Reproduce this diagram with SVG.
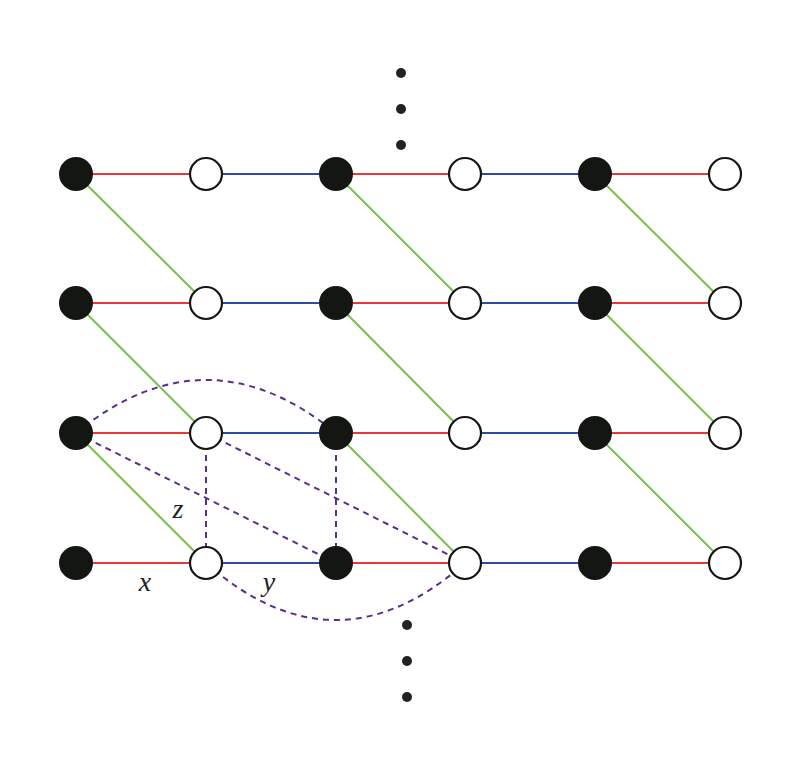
<svg xmlns="http://www.w3.org/2000/svg" width="788" height="762" viewBox="0 0 788 762">
<style>
.r{stroke:#e8383a;stroke-width:2}
.b{stroke:#2b4f9e;stroke-width:2}
.g{stroke:#77c04e;stroke-width:2}
.d{stroke:#5b2d8c;stroke-width:2;stroke-dasharray:6,5;fill:none}
.f{fill:#141614;stroke:#141614;stroke-width:2}
.o{fill:#fff;stroke:#141614;stroke-width:2.2}
.dot{fill:#222}
.t{font-family:"Liberation Serif",serif;font-style:italic;font-size:28px;fill:#222}
</style>
<rect width="788" height="762" fill="#fff"/>
<g id="connectors">
<g id="red">
<line class="r" x1="76" y1="174" x2="206" y2="174"/><line class="r" x1="336" y1="174" x2="465" y2="174"/><line class="r" x1="595" y1="174" x2="725" y2="174"/>
<line class="r" x1="76" y1="303" x2="206" y2="303"/><line class="r" x1="336" y1="303" x2="465" y2="303"/><line class="r" x1="595" y1="303" x2="725" y2="303"/>
<line class="r" x1="76" y1="433" x2="206" y2="433"/><line class="r" x1="336" y1="433" x2="465" y2="433"/><line class="r" x1="595" y1="433" x2="725" y2="433"/>
<line class="r" x1="76" y1="563" x2="206" y2="563"/><line class="r" x1="336" y1="563" x2="465" y2="563"/><line class="r" x1="595" y1="563" x2="725" y2="563"/>
</g>
<g id="blue">
<line class="b" x1="206" y1="174" x2="336" y2="174"/><line class="b" x1="465" y1="174" x2="595" y2="174"/>
<line class="b" x1="206" y1="303" x2="336" y2="303"/><line class="b" x1="465" y1="303" x2="595" y2="303"/>
<line class="b" x1="206" y1="433" x2="336" y2="433"/><line class="b" x1="465" y1="433" x2="595" y2="433"/>
<line class="b" x1="206" y1="563" x2="336" y2="563"/><line class="b" x1="465" y1="563" x2="595" y2="563"/>
</g>
<g id="green">
<line class="g" x1="76" y1="174" x2="206" y2="303"/><line class="g" x1="336" y1="174" x2="465" y2="303"/><line class="g" x1="595" y1="174" x2="725" y2="303"/>
<line class="g" x1="76" y1="303" x2="206" y2="433"/><line class="g" x1="336" y1="303" x2="465" y2="433"/><line class="g" x1="595" y1="303" x2="725" y2="433"/>
<line class="g" x1="76" y1="433" x2="206" y2="563"/><line class="g" x1="336" y1="433" x2="465" y2="563"/><line class="g" x1="595" y1="433" x2="725" y2="563"/>
</g>
<g id="dashed">
<path class="d" d="M76,433 Q206,327 336,433"/>
<path class="d" d="M206,563 Q336,677 465,563"/>
<line class="d" x1="76" y1="433" x2="336" y2="563"/>
<line class="d" x1="206" y1="433" x2="465" y2="563"/>
<line class="d" x1="206" y1="433" x2="206" y2="563"/>
<line class="d" x1="336" y1="433" x2="336" y2="563"/>
</g>
</g>
<g id="nodes">
<g id="r0"><circle class="f" cx="76" cy="174" r="16"/><circle class="o" cx="206" cy="174" r="16"/><circle class="f" cx="336" cy="174" r="16"/><circle class="o" cx="465" cy="174" r="16"/><circle class="f" cx="595" cy="174" r="16"/><circle class="o" cx="725" cy="174" r="16"/></g>
<g id="r1"><circle class="f" cx="76" cy="303" r="16"/><circle class="o" cx="206" cy="303" r="16"/><circle class="f" cx="336" cy="303" r="16"/><circle class="o" cx="465" cy="303" r="16"/><circle class="f" cx="595" cy="303" r="16"/><circle class="o" cx="725" cy="303" r="16"/></g>
<g id="r2"><circle class="f" cx="76" cy="433" r="16"/><circle class="o" cx="206" cy="433" r="16"/><circle class="f" cx="336" cy="433" r="16"/><circle class="o" cx="465" cy="433" r="16"/><circle class="f" cx="595" cy="433" r="16"/><circle class="o" cx="725" cy="433" r="16"/></g>
<g id="r3"><circle class="f" cx="76" cy="563" r="16"/><circle class="o" cx="206" cy="563" r="16"/><circle class="f" cx="336" cy="563" r="16"/><circle class="o" cx="465" cy="563" r="16"/><circle class="f" cx="595" cy="563" r="16"/><circle class="o" cx="725" cy="563" r="16"/></g>
</g>
<g id="ellipses">
<circle class="dot" cx="401" cy="73" r="5"/><circle class="dot" cx="401" cy="109" r="5"/><circle class="dot" cx="401" cy="145" r="5"/>
<circle class="dot" cx="407" cy="625" r="5"/><circle class="dot" cx="407" cy="661" r="5"/><circle class="dot" cx="407" cy="697" r="5"/>
</g>
<g id="labels">
<text class="t" x="145" y="591" text-anchor="middle">x</text>
<text class="t" x="269" y="591" text-anchor="middle">y</text>
<text class="t" x="178" y="518" text-anchor="middle">z</text>
</g>
</svg>
